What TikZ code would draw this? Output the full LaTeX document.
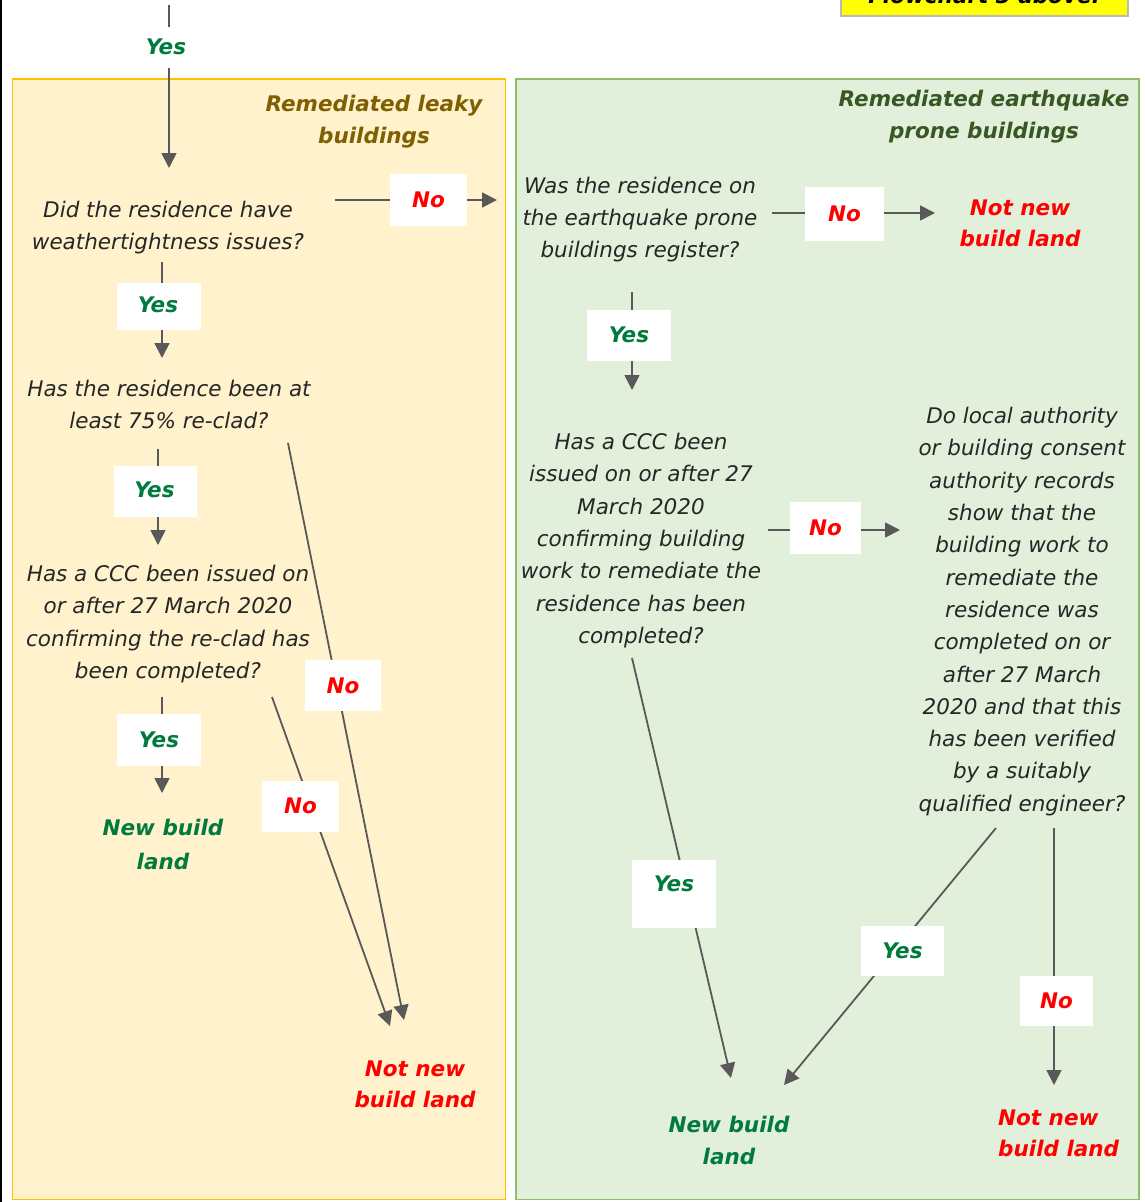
\documentclass[tikz,border=0pt]{standalone}
\usepackage{fontspec}
\setmainfont{DejaVu Sans}
\usetikzlibrary{arrows.meta}
\definecolor{leakyfill}{HTML}{FFF2CC}
\definecolor{leakyborder}{HTML}{FFC000}
\definecolor{eqfill}{HTML}{E2EFDA}
\definecolor{eqborder}{HTML}{8DBF6A}
\definecolor{yesgreen}{HTML}{007A3D}
\definecolor{nored}{HTML}{FF0000}
\definecolor{leakyhead}{HTML}{7F6000}
\definecolor{eqhead}{HTML}{385723}
\definecolor{qtext}{HTML}{262626}
\definecolor{arrgray}{HTML}{595959}
\definecolor{flowyellow}{HTML}{FFFF00}
\begin{document}
\begin{tikzpicture}[x=1pt,y=-1pt,
  q/.style={font=\fontsize{21.5}{32.3}\selectfont\itshape, text=qtext, align=center, inner sep=0pt},
  hd/.style={font=\fontsize{21.5}{31.5}\selectfont\bfseries\itshape, align=center, inner sep=0pt},
  endg/.style={font=\fontsize{21.5}{32}\selectfont\bfseries\itshape, text=yesgreen, align=center, inner sep=0pt},
  endr/.style={font=\fontsize{21.5}{31}\selectfont\bfseries\itshape, text=nored, align=center, inner sep=0pt},
  lab/.style={fill=white, inner sep=0pt, font=\fontsize{21.5}{24}\selectfont\bfseries\itshape},
  yesl/.style={lab, text=yesgreen},
  nol/.style={lab, text=nored},
  ln/.style={draw=arrgray, line width=1.8pt},
  arr/.style={ln, -{Triangle[length=15pt,width=15pt]}}
]
\useasboundingbox (0,0) rectangle (1144,1202);
\fill[white] (0,0) rectangle (1144,1202);
% outer frame edge and top box
\draw[black, line width=2pt] (1,0) -- (1,1202);
\draw[fill=flowyellow, draw=gray!55, line width=1.2pt] (841,-40) rectangle (1128,16);
\node[font=\fontsize{21.5}{26}\selectfont\bfseries\itshape, anchor=base] (flow) at (984,3) {Flowchart 3 above.};
% panels
\draw[draw=leakyborder, fill=leakyfill, line width=1.5pt] (12.5,79) rectangle (505.5,1199.5);
\draw[draw=eqborder, fill=eqfill, line width=1.5pt] (516,79) rectangle (1139,1199.5);
\node[hd, text=leakyhead] (hleaky) at (374,121.5) {Remediated leaky\\buildings};
\node[hd, text=eqhead] (heq) at (984,116.5) {Remediated earthquake\\prone buildings};
% questions and outcomes
\node[q] (q1) at (168,227.5) {Did the residence have\\weathertightness issues?};
\node[q] (q2) at (169,404.5) {Has the residence been at\\least 75\% re-clad?};
\node[q] (q3) at (168,624) {Has a CCC been issued on\\or after 27 March 2020\\confirming the re-clad has\\been completed?};
\node[endg, font=\fontsize{21.5}{34}\selectfont\bfseries\itshape] (nb1) at (163,844.5) {New build\\land};
\node[endr] (nnb1) at (415,1084.5) {Not new\\build land};
\node[q] (q4) at (640,219.5) {Was the residence on\\the earthquake prone\\buildings register?};
\node[endr] (nnb2) at (1020,223.5) {Not new\\build land};
\node[q] (q5) at (641,540.5) {Has a CCC been\\issued on or after 27\\March 2020\\confirming building\\work to remediate the\\residence has been\\completed?};
\node[q] (q6) at (1022,611.5) {Do local authority\\or building consent\\authority records\\show that the\\building work to\\remediate the\\residence was\\completed on or\\after 27 March\\2020 and that this\\has been verified\\by a suitably\\qualified engineer?};
\node[endg] (nb2) at (729,1140) {New build\\land};
\node[endr, align=left, anchor=west] (nnb3) at (998,1133.5) {Not new\\build land};
% connector end points
\coordinate (a0s) at (169,5);     \coordinate (a0e) at (169,168);
\coordinate (a1s) at (335,200);   \coordinate (a1e) at (497,200);
\coordinate (a2s) at (162,262);   \coordinate (a2e) at (162,358);
\coordinate (a3s) at (158,449);   \coordinate (a3e) at (158,545);
\coordinate (a4s) at (162,697);   \coordinate (a4e) at (162,793);
\coordinate (a5s) at (288,443);   \coordinate (a5e) at (404,1020);
\coordinate (a6s) at (272,697);   \coordinate (a6e) at (390,1026);
\coordinate (a7s) at (772,213);   \coordinate (a7e) at (935,213);
\coordinate (a8s) at (632,292);   \coordinate (a8e) at (632,390);
\coordinate (a9s) at (768,530);   \coordinate (a9e) at (900,530);
\coordinate (a10s) at (632,658);  \coordinate (a10e) at (731,1078);
\coordinate (a11s) at (996,828);  \coordinate (a11e) at (784,1085);
\coordinate (a12s) at (1054,828); \coordinate (a12e) at (1054,1085);
% connectors
\draw[arr] (a0s) -- (a0e);
\draw[arr] (a1s) -- (a1e);
\draw[arr] (a2s) -- (a2e);
\draw[arr] (a3s) -- (a3e);
\draw[arr] (a4s) -- (a4e);
\draw[arr] (a5s) -- (a5e);
\draw[arr] (a6s) -- (a6e);
\draw[arr] (a7s) -- (a7e);
\draw[arr] (a8s) -- (a8e);
\draw[arr] (a9s) -- (a9e);
\draw[arr] (a10s) -- (a10e);
\draw[arr] (a11s) -- (a11e);
\draw[arr] (a12s) -- (a12e);
% labels on connectors
\node[yesl, minimum width=60, minimum height=41] (l0) at (166,47) {Yes};
\node[nol, minimum width=77, minimum height=52] (l1) at (428.5,200) {No};
\node[lab, minimum width=84, minimum height=47] (l2box) at (159,306.5) {};
\node[yesl, fill=none] (l2) at (158,304.5) {Yes};
\node[lab, minimum width=83, minimum height=51] (l3box) at (155.5,491.5) {};
\node[yesl, fill=none] (l3) at (154.5,490) {Yes};
\node[yesl, minimum width=84, minimum height=52] (l4) at (159,740) {Yes};
\node[nol, minimum width=76, minimum height=51] (l5) at (343,685.5) {No};
\node[nol, minimum width=77, minimum height=51] (l6) at (300.5,806) {No};
\node[nol, minimum width=79, minimum height=54] (l7) at (844.5,214) {No};
\node[yesl, minimum width=84, minimum height=51] (l8) at (629,335) {Yes};
\node[nol, minimum width=71, minimum height=52] (l9) at (825.5,528) {No};
\node[lab, minimum width=84, minimum height=68] (l10box) at (674,894) {};
\node[yesl, fill=none] (l10) at (674,883.5) {Yes};
\node[yesl, minimum width=83, minimum height=50] (l11) at (902.5,951) {Yes};
\node[nol, minimum width=73, minimum height=50] (l12) at (1056.5,1000.5) {No};
\end{tikzpicture}
\end{document}
